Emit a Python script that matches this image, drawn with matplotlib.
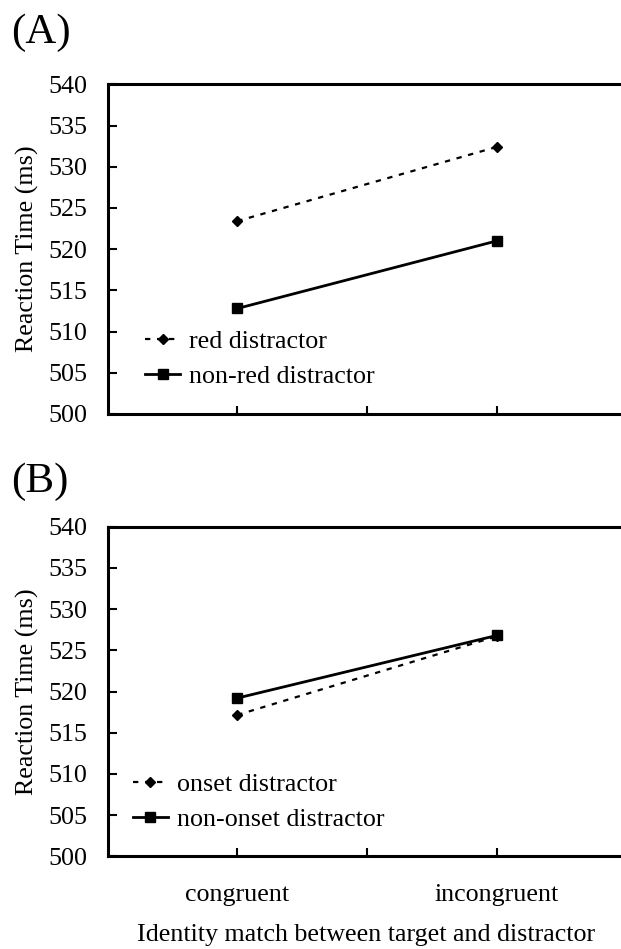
import matplotlib
matplotlib.use("Agg")
import matplotlib.pyplot as plt

plt.rcParams['font.family'] = ['Liberation Serif', 'DejaVu Serif']

categorias = ['congruent', 'incongruent']

# painel A: cor
rt_red = [523.4, 532.4]
rt_nonred = [512.8, 521.0]
nomes_a = ['red distractor', 'non-red distractor']

# painel B: onset
rt_onset = [517.15, 526.7]
rt_nononset = [519.2, 526.8]
nomes_b = ['onset distractor', 'non-onset distractor']

FS = 18.7
W, H = 621, 949
fig = plt.figure(figsize=(W / 100, H / 100), dpi=100)

left = 107.6 / W
width = (626.4 - 107.6) / W
ax_a = fig.add_axes([left, 1 - 414 / H, width, (414 - 84.3) / H])
ax_b = fig.add_axes([left, 1 - 856.3 / H, width, (856.3 - 526.7) / H])


def desenhar(ax, serie1, serie2, nomes, leg_x, tick_labels):
    x = list(range(len(categorias)))
    l1, = ax.plot(x, serie1, color='black', lw=1.6, marker='D', markersize=5.5,
                  label=nomes[0])
    l1.set_dashes((2.4, 3.0))
    ax.plot(x, serie2, color='black', lw=2.0, marker='s', markersize=7,
            label=nomes[1])
    ax.set_xlim(-0.5, 1.5)
    ax.set_ylim(500, 540)
    ax.set_yticks(range(500, 541, 5))
    ax.set_xticks([0, 0.5, 1])
    if tick_labels:
        ax.set_xticklabels([categorias[0], '', categorias[1]])
    else:
        ax.set_xticklabels([])
    ax.tick_params(axis='y', direction='in', length=6.5, width=1.5,
                   labelsize=FS, pad=14.5)
    ax.tick_params(axis='x', direction='in', length=5.5, width=1.5,
                   labelsize=FS, pad=20)
    for lado in ['left', 'bottom', 'top']:
        ax.spines[lado].set_linewidth(2.2)
    ax.spines['right'].set_visible(False)
    ax.legend(loc='center left', bbox_to_anchor=(leg_x, 0.166), frameon=False,
              fontsize=FS, borderpad=0, borderaxespad=0, handlelength=1.35,
              handletextpad=0.35, labelspacing=0.45)


desenhar(ax_a, rt_red, rt_nonred, nomes_a, (145 - 107.6) / 518.8, False)
desenhar(ax_b, rt_onset, rt_nononset, nomes_b, (132.7 - 107.6) / 518.8, True)

fig.text(27 / W, 1 - 249 / H, 'Reaction Time (ms)', rotation=90, fontsize=FS,
         ha='center', va='center')
fig.text(27 / W, 1 - 691.5 / H, 'Reaction Time (ms)', rotation=90, fontsize=FS,
         ha='center', va='center')
fig.text(366 / W, 1 - 935 / H, 'Identity match between target and distractor',
         fontsize=FS, ha='center', va='center')

fig.text(11 / W, 1 - 33 / H, '(A)', fontsize=31, ha='left', va='center')
fig.text(11 / W, 1 - 482 / H, '(B)', fontsize=31, ha='left', va='center')

fig.savefig('out.png', dpi=100)
